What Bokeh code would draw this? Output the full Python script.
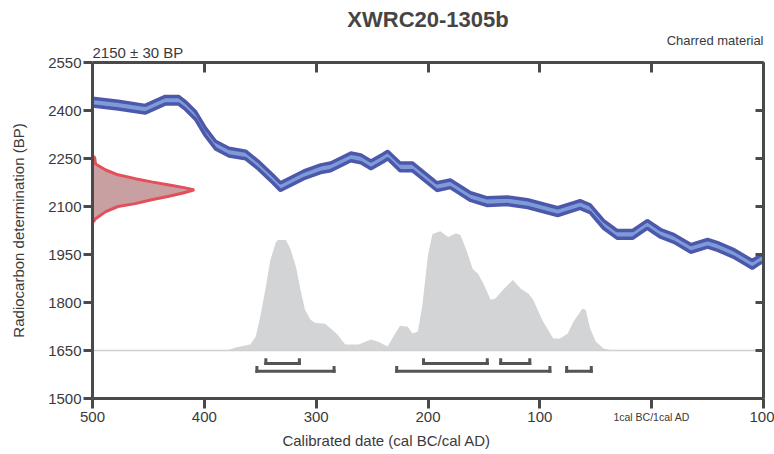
import numpy as np
from bokeh.plotting import figure
from bokeh.models import (Range1d, LinearAxis, FixedTicker, Title,
                          CustomLabelingPolicy)
from bokeh.embed import file_html
from bokeh.resources import INLINE

# ---------------- data ----------------
cal_year = [-500, -477, -453, -435, -423, -417, -408, -399, -390, -378,
            -363, -352, -339, -332, -311, -296, -287, -269, -260, -251,
            -240, -236, -225, -214, -192, -180, -162, -147, -129, -111,
            -84, -64, -55, -43, -31, -17, -4, 8, 20, 35,
            50, 59, 73, 90, 97, 100]
cal_bp = [2426, 2417, 2404, 2432, 2432, 2416, 2385, 2333, 2292, 2270,
          2261, 2230, 2187, 2162, 2199, 2218, 2224, 2255, 2249, 2230,
          2252, 2261, 2224, 2224, 2162, 2171, 2131, 2115, 2118, 2109,
          2084, 2106, 2093, 2044, 2013, 2013, 2044, 2016, 2000, 1969,
          1985, 1975, 1954, 1919, 1935, 1938]
cal_sigma = 12

red_bp = [2255, 2233, 2214, 2199, 2187, 2177, 2168, 2159, 2152, 2143,
          2131, 2121, 2109, 2100, 2084, 2062, 2053]
red_rel = [0.02, 0.03, 0.13, 0.25, 0.42, 0.58, 0.74, 0.90, 1.00, 0.90,
           0.74, 0.58, 0.42, 0.25, 0.13, 0.03, 0.01]

hist_year = [-500, -380, -372, -359, -354, -350, -345, -341, -336, -334,
             -327, -323, -318, -314, -310, -305, -301, -292, -287, -281,
             -274, -262, -251, -245, -236, -231, -225, -218, -214, -209,
             -205, -200, -196, -189, -182, -175, -171, -166, -160, -155,
             -150, -144, -140, -132, -124, -117, -110, -106, -97, -88,
             -82, -75, -70, -62, -59, -55, -50, -43, -39, -35, 100]
hist_prob = [0, 0, 3, 6, 14, 34, 64, 91, 109, 111,
             111, 102, 84, 61, 41, 31, 28, 27, 22, 16,
             6, 6, 11, 9, 4, 14, 25, 24, 17, 19,
             46, 96, 117, 120, 114, 118, 116, 102, 82, 77,
             66, 51, 52, 62, 71, 62, 57, 51, 29, 12,
             12, 17, 29, 42, 41, 22, 9, 2, 1, 0, 0]

one_sigma_start = [-345, -204, -135]
one_sigma_end = [-315, -147, -109]
two_sigma_start = [-353, -228, -76]
two_sigma_end = [-284, -91, -54]

x_ticks = [-500, -400, -300, -200, -100, 0, 100]
x_tick_labels = ["500", "400", "300", "200", "100", "1cal BC/1cal AD", "100"]
y_ticks = [1500, 1650, 1800, 1950, 2100, 2250, 2400, 2550]

title_text = "XWRC20-1305b"
date_text = "2150 \u00b1 30 BP"
material_text = "Charred material"
x_label = "Calibrated date (cal BC/cal AD)"
y_label = "Radiocarbon determination (BP)"

# ---------------- style ----------------
FONT = "Liberation Sans"
AX = "#4a4a4a"
TXT = "#3a3a3a"
HIST_BASE = 1650
HIST_PEAK = 373
RED_WIDTH = 91
X_LABEL_CENTER = -237
W, H = 774, 454
BL, BR, BT, BB = 92, 11, 60, 56

p = figure(width=W, height=H,
           x_range=Range1d(x_ticks[0], x_ticks[-1]),
           y_range=Range1d(y_ticks[0], y_ticks[-1]),
           output_backend="svg", toolbar_location=None,
           x_axis_location=None, y_axis_location=None,
           min_border_left=BL, min_border_right=BR,
           min_border_top=BT, min_border_bottom=BB)
p.outline_line_color = None
p.xgrid.grid_line_color = None
p.ygrid.grid_line_color = None

def make_axis(ticks, t_in=0, t_out=0, font="15px"):
    return LinearAxis(ticker=FixedTicker(ticks=ticks),
                      axis_line_width=3, axis_line_color=AX,
                      major_tick_line_width=3, major_tick_line_color=AX,
                      major_tick_in=t_in, major_tick_out=t_out,
                      minor_tick_in=0, minor_tick_out=0,
                      major_label_text_font=FONT,
                      major_label_text_font_size=font,
                      major_label_text_color=TXT,
                      axis_label_text_font=FONT,
                      axis_label_text_font_size="15px",
                      axis_label_text_font_style="normal",
                      axis_label_text_color=TXT)

HIDE_ALL = "for (const i of indices) { indices.unset(i) }\nreturn indices"

# left axis with labels
left = make_axis(y_ticks, 0, 9)
left.major_label_standoff = 2
left.axis_label = y_label
left.axis_label_standoff = 18
p.add_layout(left, "left")

# bottom axis: numeric labels (the 0 tick label is drawn separately, smaller)
ov = {t: lab for t, lab in zip(x_ticks, x_tick_labels) if t != 0}
bottom = make_axis(x_ticks, 0, 10)
bottom.major_label_overrides = ov
bottom.major_label_standoff = 3
bottom.major_label_policy = CustomLabelingPolicy(
    code="indices.unset(%d)\nreturn indices" % x_ticks.index(0))
p.add_layout(bottom, "below")

# second, invisible bottom axis: small "1cal BC/1cal AD" label
bottom2 = make_axis([0], 0, 0, "10.5px")
bottom2.major_label_overrides = {0: x_tick_labels[x_ticks.index(0)]}
bottom2.axis_line_color = None
bottom2.major_tick_line_color = None
bottom2.major_label_standoff = -14
p.add_layout(bottom2, "below")

# third, invisible bottom axis: carries the x-axis title at its position
bottom3 = make_axis([X_LABEL_CENTER], 0, 0, "15px")
bottom3.major_label_overrides = {X_LABEL_CENTER: x_label}
bottom3.axis_line_color = None
bottom3.major_tick_line_color = None
bottom3.major_label_standoff = 6
p.add_layout(bottom3, "below")

# top and right frame edges with inward ticks, no labels
top = make_axis(x_ticks, 10, 0, "1px")
top.major_label_standoff = 0
top.major_label_policy = CustomLabelingPolicy(code=HIDE_ALL)
p.add_layout(top, "above")
right = make_axis(y_ticks, 8, 0, "1px")
right.major_label_standoff = 0
right.major_label_policy = CustomLabelingPolicy(code=HIDE_ALL)
p.add_layout(right, "right")

# texts above the frame (stacked outward from the frame)
p.add_layout(Title(text=date_text, align="left", text_font=FONT,
                   text_font_size="15px", text_font_style="normal",
                   text_color=TXT, standoff=-4), "above")
p.add_layout(Title(text=material_text, align="right", text_font=FONT,
                   text_font_size="13px", text_font_style="normal",
                   text_color=TXT, standoff=-9), "above")
p.add_layout(Title(text=title_text, align="center", text_font=FONT,
                   text_font_size="22px", text_font_style="bold",
                   text_color="#454545", standoff=8), "above")

# calibrated distribution
hp = np.array(hist_prob, dtype=float)
p.varea(x=hist_year, y1=[HIST_BASE] * len(hist_year),
        y2=list(HIST_BASE + hp / hp.max() * HIST_PEAK),
        fill_color="#d3d4d6")
p.line(x=[x_ticks[0], x_ticks[-1]], y=[HIST_BASE, HIST_BASE],
       line_color="#d0d0d0", line_width=1.5)

# calibration curve band
cy = np.array(cal_bp, dtype=float)
p.varea(x=cal_year, y1=list(cy - cal_sigma), y2=list(cy + cal_sigma),
        fill_color="#7d9bd9")
p.line(x=cal_year, y=list(cy + cal_sigma), line_color="#4d58ab", line_width=3.5)
p.line(x=cal_year, y=list(cy - cal_sigma), line_color="#4d58ab", line_width=3.5)

# radiocarbon determination
rx = [x_ticks[0]] + [x_ticks[0] + r * RED_WIDTH for r in red_rel] + [x_ticks[0]]
ry = [red_bp[0]] + red_bp + [red_bp[-1]]
p.patch(x=rx, y=ry, fill_color="#c9a0a2", line_color="#e2505c", line_width=3)

# range brackets (horizontal bars + end ticks)
ROW1, ROW2, TICK = 1609, 1585, 12
bx0, bx1, by0, by1 = [], [], [], []
for starts, ends, row in ((one_sigma_start, one_sigma_end, ROW1),
                          (two_sigma_start, two_sigma_end, ROW2)):
    for a, b in zip(starts, ends):
        bx0 += [a, a, b]; bx1 += [b, a, b]
        by0 += [row, row, row]; by1 += [row, row + TICK, row + TICK]
p.segment(x0=bx0, x1=bx1, y0=by0, y1=by1, line_color="#555555", line_width=3,
          line_cap="square")

open("out.html", "w").write(file_html(p, INLINE))
